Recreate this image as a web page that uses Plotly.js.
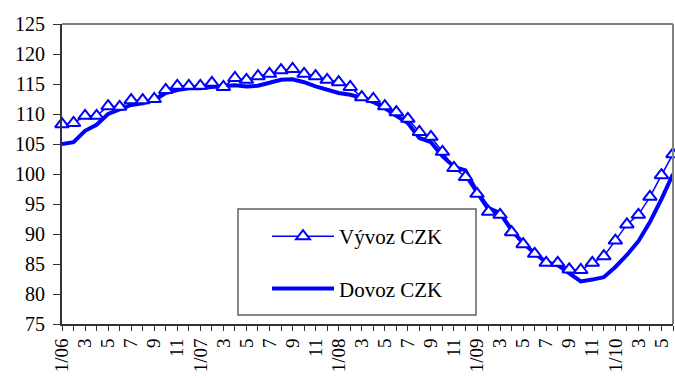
<!DOCTYPE html>
<html>
<head>
<meta charset="utf-8">
<script src="https://cdn.plot.ly/plotly-3.0.1.min.js"></script>
<style>html,body{margin:0;padding:0;background:#fff;}#chart{width:675px;height:378px;}</style>
</head>
<body>
<div id="chart"></div>
<script>
// Monthly categories 1/06 .. 6/10
const months = ["1/06","2","3","4","5","6","7","8","9","10","11","12",
  "1/07","2","3","4","5","6","7","8","9","10","11","12",
  "1/08","2","3","4","5","6","7","8","9","10","11","12",
  "1/09","2","3","4","5","6","7","8","9","10","11","12",
  "1/10","2","3","4","5","6"];
// Vývoz CZK (export)
const vyvoz = [108.3,108.5,109.7,109.7,111.3,111.2,112.3,112.3,112.5,114.0,
  114.7,114.7,114.7,115.2,114.5,116.0,115.7,116.3,116.7,117.3,
  117.5,116.7,116.3,115.7,115.3,114.5,112.8,112.5,111.3,110.3,
  109.2,107.0,106.2,103.7,101.0,99.5,96.7,93.7,93.2,90.3,
  88.3,86.7,85.2,85.2,84.1,84.0,85.2,86.3,88.9,91.6,
  93.2,96.2,99.8,103.3];
// Dovoz CZK (import)
const dovoz = [105.0,105.3,107.2,108.2,110.0,110.8,111.5,111.8,112.3,113.5,
  114.0,114.3,114.3,114.5,114.7,114.8,114.6,114.7,115.2,115.7,
  115.8,115.3,114.6,114.0,113.5,113.2,112.7,112.0,111.0,109.7,
  108.5,106.0,105.3,103.0,101.2,100.6,97.0,94.3,93.5,90.7,
  88.5,86.8,85.3,84.8,83.5,82.1,82.4,82.8,84.5,86.5,
  88.8,92.0,95.8,100.0];
const seriesNames = ["Vývoz CZK","Dovoz CZK"];

const idx = months.map((m,i)=>i);
const tickText = months.map((m,i)=> i % 2 === 0 ? m : "");
const blue = "#0000ff";
const font = "Liberation Serif, Times New Roman, serif";

const traces = [
  {x: idx, y: dovoz, name: seriesNames[1], type: "scatter", mode: "lines",
   line: {color: blue, width: 4}, legendrank: 2, legendgroup: "b", cliponaxis: false},
  {x: idx, y: vyvoz, name: seriesNames[0], type: "scatter", mode: "lines+markers",
   line: {color: blue, width: 1.5},
   marker: {symbol: "triangle-up", size: 12, color: "#ffffff", line: {color: blue, width: 2}},
   legendrank: 1, legendgroup: "a", cliponaxis: false}
];

const layout = {
  width: 675, height: 378,
  margin: {l: 62, r: 2, t: 24, b: 54},
  paper_bgcolor: "#ffffff", plot_bgcolor: "#ffffff",
  font: {family: font, size: 19, color: "#000"},
  showlegend: true,
  legend: {x: 0.3355, y: 0.36, xanchor: "left", yanchor: "top",
    bgcolor: "rgba(0,0,0,0)", borderwidth: 0, tracegroupgap: 22,
    itemwidth: 62, font: {family: font, size: 21, color: "#000"}},
  xaxis: {type: "linear", range: [0, months.length - 1],
    tickmode: "array", tickvals: idx, ticktext: tickText, tickangle: -90,
    ticks: "outside", ticklen: 5, tickwidth: 1, tickcolor: "#333",
    showline: true, linecolor: "#333", linewidth: 2,
    showgrid: false, zeroline: false,
    tickfont: {family: font, size: 19, color: "#000"}},
  yaxis: {range: [75, 125], dtick: 5, tick0: 75,
    ticks: "outside", ticklen: 7, tickwidth: 1, tickcolor: "#333",
    showline: true, linecolor: "#333", linewidth: 2,
    showgrid: false, zeroline: false, ticklabelstandoff: 4,
    tickfont: {family: font, size: 20, color: "#000"}},
  shapes: [
    {type: "line", xref: "paper", yref: "paper", x0: 0, x1: 1, y0: 1, y1: 1,
     line: {color: "#808080", width: 2}},
    {type: "line", xref: "paper", yref: "paper", x0: 1, x1: 1, y0: 0, y1: 1,
     line: {color: "#808080", width: 2}},
    {type: "rect", xref: "paper", yref: "paper",
     x0: (238-62)/611, x1: (476-62)/611, y0: (324-315)/300, y1: (324-209)/300,
     line: {color: "#606060", width: 1.5}, layer: "below"}
  ]
};

Plotly.newPlot("chart", traces, layout, {staticPlot: true, displayModeBar: false});
</script>
</body>
</html>
